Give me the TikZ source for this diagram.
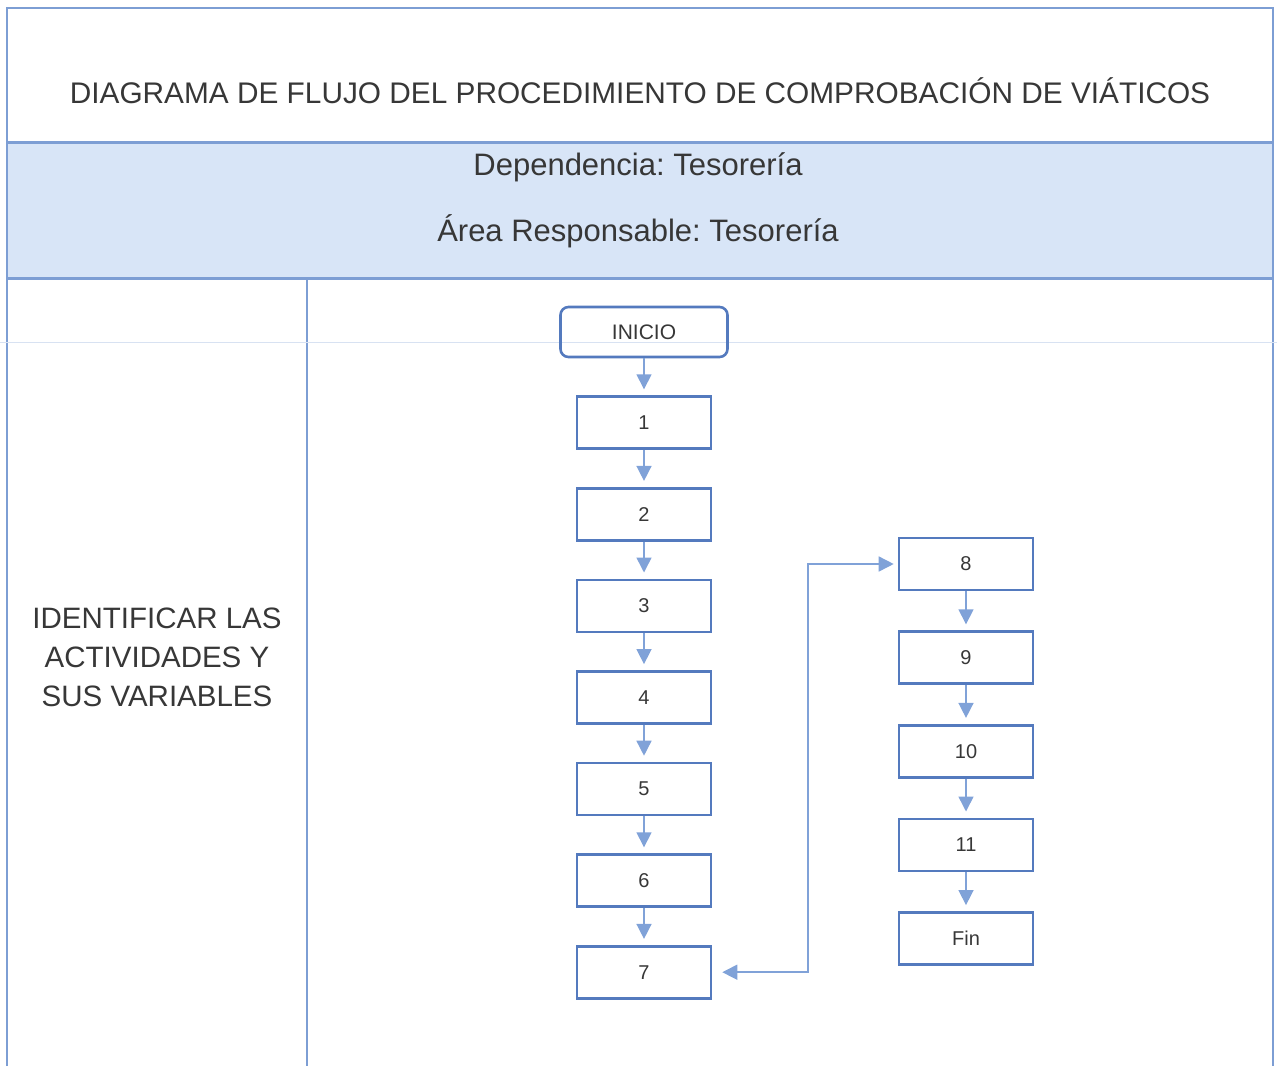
\documentclass[tikz,border=0pt]{standalone}
\usepackage{fontspec}
\setmainfont{Liberation Sans}
\frenchspacing
\usetikzlibrary{positioning, arrows.meta}
\definecolor{framecol}{RGB}{125, 158, 212}
\definecolor{boxcol}{RGB}{84, 122, 190}
\definecolor{bandcol}{RGB}{216, 229, 247}
\definecolor{arrcol}{RGB}{128, 162, 216}
\definecolor{txtcol}{RGB}{55, 55, 55}
\tikzset{
  stepbox/.style={draw=boxcol, line width=2.6pt, minimum width=134pt, minimum height=52pt,
                  align=center, text=txtcol, font=\fontsize{20}{24}\selectfont},
  flow/.style={-{Triangle[length=15pt, width=15pt]}, draw=arrcol, line width=1.5pt, shorten >=6pt},
  frame/.style={draw=framecol, line width=2.5pt},
}

\begin{document}
\begin{tikzpicture}[x=1pt, y=-1pt, node distance=37pt]
  \useasboundingbox (0,0) rectangle (1277,1066);

  % header rows
  \fill[bandcol] (7,142) rectangle (1273,278);
  \draw[frame] (7,1066) -- (7,8) -- (1273,8) -- (1273,1066);
  \draw[frame, line width=3pt] (7,142) -- (1273,142);
  \draw[frame, line width=3pt] (7,278) -- (1273,278);
  \draw[frame] (307,278) -- (307,1066);
  \draw[framecol!30, line width=0.8pt] (0,342) -- (1277,342);

  \node[text=txtcol, font=\fontsize{29.8}{35}\selectfont] (title) at (640,91)
    {DIAGRAMA DE FLUJO DEL PROCEDIMIENTO DE COMPROBACIÓN DE VIÁTICOS};
  \node[text=txtcol, font=\fontsize{31}{37}\selectfont] (dep) at (638,167) {Dependencia: Tesorería};
  \node[text=txtcol, font=\fontsize{31}{37}\selectfont] (area) at (638,231) {Área Responsable: Tesorería};
  \node[text=txtcol, align=center, font=\fontsize{29.5}{39}\selectfont] (ident) at (157,657)
    {IDENTIFICAR LAS\\ACTIVIDADES Y\\SUS VARIABLES};

  % flow
  \node[stepbox, rounded corners=8pt, minimum width=167pt, minimum height=50pt,
        font=\fontsize{21}{24}\selectfont] (ini) at (644,332) {INICIO};
  \node[stepbox, below=of ini] (b1) {1};
  \node[stepbox, below=of b1] (b2) {2};
  \node[stepbox, below=of b2] (b3) {3};
  \node[stepbox, below=of b3] (b4) {4};
  \node[stepbox, below=of b4] (b5) {5};
  \node[stepbox, below=of b5] (b6) {6};
  \node[stepbox, below=of b6] (b7) {7};

  \node[stepbox] (b8) at (966,564) {8};
  \node[stepbox, below=39pt of b8] (b9) {9};
  \node[stepbox, below=39pt of b9] (b10) {10};
  \node[stepbox, below=39pt of b10] (b11) {11};
  \node[stepbox, below=39pt of b11] (fin) {Fin};

  \foreach \a/\b in {ini/b1, b1/b2, b2/b3, b3/b4, b4/b5, b5/b6, b6/b7,
                     b8/b9, b9/b10, b10/b11, b11/fin}
    \draw[flow] (\a) -- (\b);

  \coordinate (bend) at (808,0);
  \draw[flow, {Triangle[length=15pt, width=15pt]}-{Triangle[length=15pt, width=15pt]},
        shorten <=10pt, shorten >=4pt]
    (b7.east) -- (b7.east -| bend) -- (b8.west -| bend) -- (b8.west);
\end{tikzpicture}
\end{document}
